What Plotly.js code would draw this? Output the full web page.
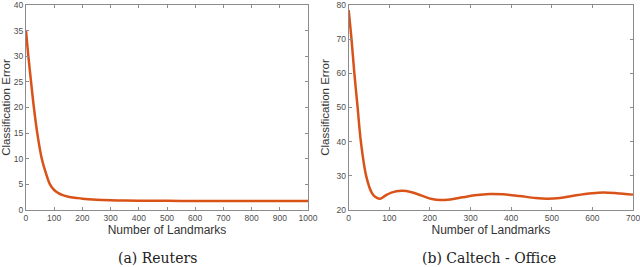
<!DOCTYPE html>
<html><head><meta charset="utf-8">
<script src="https://cdn.plot.ly/plotly-3.0.1.min.js"></script>
<style>html,body{margin:0;padding:0;background:#fff;}#chart{width:640px;height:267px;}</style>
</head><body><div id="chart"></div>
<script>
var reutersX = [0, 8, 18, 28, 40, 56, 70, 85, 100, 115, 130, 150, 180, 200, 250, 300, 350, 400, 500, 600, 700, 800, 900, 1000];
var reutersY = [35, 30.2, 25, 20, 15, 10, 7.3, 5.0, 3.9, 3.3, 2.9, 2.6, 2.35, 2.2, 2.0, 1.9, 1.85, 1.8, 1.78, 1.76, 1.75, 1.75, 1.75, 1.75];
var caltechX = [0, 7, 14, 22, 30, 43, 57, 65, 77, 90, 105, 130, 155, 180, 205, 225, 250, 280, 310, 348, 380, 420, 460, 488, 520, 560, 600, 627, 660, 700];
var caltechY = [78.5, 70, 60, 50, 40, 30, 25, 23.9, 23.3, 24.2, 25.1, 25.6, 25.2, 24.2, 23.2, 22.9, 23.1, 23.7, 24.3, 24.7, 24.6, 24.1, 23.5, 23.3, 23.5, 24.3, 24.9, 25.1, 24.9, 24.5];
var xTitle = 'Number of Landmarks';
var yTitle = 'Classification Error';
var captions = ['(a) Reuters', '(b) Caltech - Office'];

var lineStyle = {color: '#D95319', width: 2.5, shape: 'spline', smoothing: 0.9};
var traces = [
  {x: reutersX, y: reutersY, type: 'scatter', mode: 'lines', line: lineStyle, xaxis: 'x', yaxis: 'y', hoverinfo: 'skip'},
  {x: caltechX, y: caltechY, type: 'scatter', mode: 'lines', line: lineStyle, xaxis: 'x2', yaxis: 'y2', hoverinfo: 'skip'}
];
var axBase = {
  showline: true, mirror: 'ticks', linecolor: '#8c8c8c', linewidth: 1,
  ticks: 'inside', ticklen: 3, tickcolor: '#8c8c8c', showgrid: false, zeroline: false,
  ticklabeloverflow: 'allow',
  tickfont: {family: 'Liberation Sans, Arial, sans-serif', size: 8.5, color: '#4d4d4d'}
};
function ax(o){ return Object.assign({}, axBase, o); }
var ydom = [0.2135, 0.9813];
var titleFontX = {family: 'Liberation Sans, Arial, sans-serif', size: 12, color: '#333'};
var titleFontY = {family: 'Liberation Sans, Arial, sans-serif', size: 11.5, color: '#333'};
var capFont = {family: 'DejaVu Serif, Liberation Serif, serif', size: 14, color: '#222'};
var layout = {
  width: 640, height: 267,
  margin: {l: 0, r: 0, t: 0, b: 0},
  paper_bgcolor: '#fff', plot_bgcolor: '#fff',
  showlegend: false,
  xaxis: ax({domain: [0.0406, 0.4813], range: [0, 1000], dtick: 100,
    title: {text: xTitle, standoff: 3, font: titleFontX}}),
  yaxis: ax({domain: ydom, range: [0, 40], dtick: 5, anchor: 'x',
    title: {text: yTitle, standoff: 4, font: titleFontY}}),
  xaxis2: ax({domain: [0.5448, 0.9891], range: [0, 700], dtick: 100, anchor: 'y2',
    title: {text: xTitle, standoff: 3, font: titleFontX}}),
  yaxis2: ax({domain: ydom, range: [20, 80], dtick: 10, anchor: 'x2',
    title: {text: yTitle, standoff: 4, font: titleFontY}}),
  annotations: [
    {text: captions[0], xref: 'paper', yref: 'paper', x: 157/640, y: (267-258)/267, xanchor: 'center', yanchor: 'middle', showarrow: false, font: capFont},
    {text: captions[1], xref: 'paper', yref: 'paper', x: 489/640, y: (267-258)/267, xanchor: 'center', yanchor: 'middle', showarrow: false, font: capFont}
  ]
};
Plotly.newPlot('chart', traces, layout, {staticPlot: true, displayModeBar: false});
</script></body></html>
